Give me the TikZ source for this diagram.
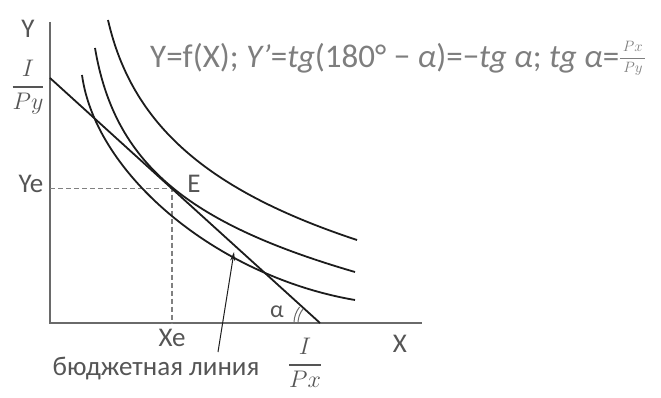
\RequirePackage{fix-cm}
\documentclass[tikz,border=0pt]{standalone}
\usepackage{amsmath}
\usepackage{fontspec}
\setmainfont{Carlito}
\usetikzlibrary{arrows.meta}
\definecolor{txt}{HTML}{555555}
\definecolor{ftxt}{HTML}{7E7E7E}
\definecolor{axisc}{HTML}{6A6A6A}
\definecolor{crv}{HTML}{1C1C1C}
\begin{document}
\begin{tikzpicture}[x=1pt,y=-1pt,
  lbl/.style={text=txt,font=\fontsize{27}{31}\selectfont,inner sep=0pt,anchor=base},
  frc/.style={text=txt,font=\fontsize{24}{28}\selectfont,inner sep=0pt,anchor=base},
  ax/.style={draw=axisc,line width=1.8pt},
  icurve/.style={draw=crv,line width=1.8pt},
  guide/.style={draw=axisc!85,line width=1.2pt,dash pattern=on 5pt off 3pt},
  pointer/.style={draw=crv,line width=1pt,-{Stealth[length=9pt,width=5pt]}},
  anglemark/.style={draw=axisc,line width=1pt}]
\useasboundingbox (0,0) rectangle (661,398);
% axes
\coordinate (O) at (50,323);
\coordinate (Ytop) at (50,22);
\coordinate (Xend) at (422,323);
\draw[ax] (Ytop) -- (O) -- (Xend);
% budget line and equilibrium
\coordinate (B1) at (50,78);
\coordinate (B2) at (320,323);
\coordinate (E) at (172,188.7);
\coordinate (Yef) at (50,188.7);
\coordinate (Xef) at (172,323);
\draw[guide] (Yef) -- (E) -- (Xef);
\draw[icurve] (B1) -- (B2);
% indifference curves
\coordinate (C1s) at (82,75);
\coordinate (C1e) at (355,300);
\coordinate (C2s) at (95,48);
\coordinate (C2e) at (355,272);
\coordinate (C3s) at (108,20);
\coordinate (C3e) at (357,240);
\draw[icurve] (C1s) .. controls (95.7,175.5) and (218.5,276.8) .. (C1e);
\draw[icurve] (C2s) .. controls (114.3,161.9) and (184.5,222.4) .. (C2e);
\draw[icurve] (C3s) .. controls (131.8,124.3) and (206.5,190.3) .. (C3e);
% angle marks
\draw[anglemark] (298,323) arc[start angle=180,end angle=140,radius=22pt];
\draw[anglemark] (294,323) arc[start angle=180,end angle=142,radius=26pt];
% labels
\node[lbl] (Ylab) at (28,38) {Y};
\node[frc] (IPy) at (28,93) {$\genfrac{}{}{1.6pt}{0}{I}{Py}$};
\node[lbl] (Yelab) at (31,193) {Ye};
\node[lbl] (Elab) at (194,193) {E};
\node[lbl] (Xelab) at (172,346) {Xe};
\node[lbl] (budget) at (156,375) {бюджетная линия};
\node[lbl] (Xlab) at (400,352) {X};
\node[lbl,font=\fontsize{24}{28}\selectfont] (alab) at (277,317) {α};
\node[frc] (IPx) at (305,371) {$\genfrac{}{}{1.6pt}{0}{I}{Px}$};
\node[lbl,text=ftxt,font=\fontsize{33}{37}\selectfont,anchor=base west] (formula) at (150,68)
  {Y=f(X); \textit{Y’}=\textit{tg}(180° − \textit{α})=−\textit{tg α}; \textit{tg α}=\raisebox{6pt}{\fontsize{15}{18}\selectfont$\genfrac{}{}{0.8pt}{0}{\,Px\,}{\,Py\,}$}};
% pointer
\coordinate (arrTail) at (218,352);
\coordinate (arrTip) at (234,252);
\draw[pointer] (arrTail) -- (arrTip);
\end{tikzpicture}
\end{document}
